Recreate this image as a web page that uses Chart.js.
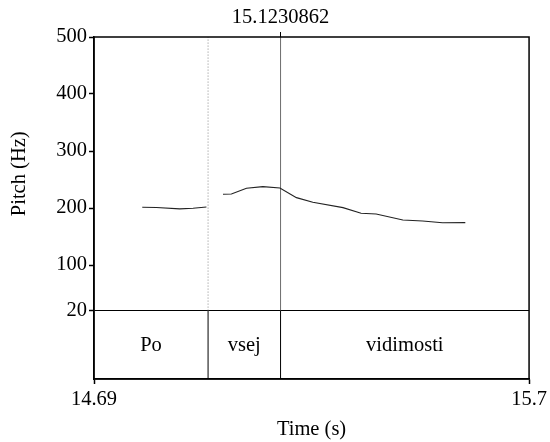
<!DOCTYPE html>
<html>
<head>
<meta charset="utf-8">
<script src="https://cdn.jsdelivr.net/npm/chart.js@4/dist/chart.umd.min.js"></script>
<style>
  html, body { margin: 0; padding: 0; background: #fff; }
  canvas { display: block; }
</style>
</head>
<body>
<canvas id="pitch" width="550" height="442"></canvas>
<script>
// pitch track (null = unvoiced gap)
const pitchTimes = [14.802, 14.835, 14.889, 14.920, 14.951, 14.970,
  14.9895, 15.009, 15.044, 15.082, 15.1216, 15.160, 15.198, 15.268, 15.310, 15.345, 15.407, 15.453, 15.499, 15.552];
const pitchHz = [201.3, 201.0, 198.5, 199.5, 201.8, null,
  224.0, 224.5, 234.6, 237.5, 235.2, 218.2, 210.0, 200.6, 190.8, 189.6, 179.0, 177.3, 174.0, 174.3];

// textgrid tier
const tierLabels = ['Po', 'vsej', 'vidimosti'];
const tierBounds = [14.69, 14.9548, 15.1230862, 15.7];
const cursorTime = 15.1230862;

// axes
const timeMin = 14.69, timeMax = 15.7;
const xTicks = [14.69, 15.7];
const yTicks = [20, 100, 200, 300, 400, 500];
const tierFloor = -100; // bottom of the text tier, in Hz units below 20

const FONT = 'Liberation Serif';
const FSIZE = 20.5;
Chart.defaults.font.family = FONT;
Chart.defaults.font.size = FSIZE;
Chart.defaults.color = '#000';

const pitchData = pitchTimes.map((t, i) => ({ x: t, y: pitchHz[i] }));

const boundarySets = [];
tierBounds.slice(1, -1).forEach(t => {
  // boundary inside the tier
  boundarySets.push({
    data: [{ x: t, y: tierFloor }, { x: t, y: 20 }],
    borderColor: '#000', borderWidth: 1, pointRadius: 0
  });
  // boundary continued up through the pitch area
  const isCursor = Math.abs(t - cursorTime) < 1e-9;
  boundarySets.push({
    data: [{ x: t, y: 20 }, { x: t, y: 500 }],
    borderColor: isCursor ? '#6d6d6d' : '#8a8a8a',
    borderDash: isCursor ? [] : [1, 2],
    borderWidth: 1, pointRadius: 0
  });
});

const framePlugin = {
  id: 'frame',
  afterDatasetsDraw(chart) {
    const { ctx, chartArea: a, scales } = chart;
    ctx.save();
    ctx.strokeStyle = '#000';
    ctx.lineWidth = 1.5;
    ctx.strokeRect(a.left, a.top, a.right - a.left, a.bottom - a.top);

    // tier labels
    ctx.fillStyle = '#000';
    ctx.font = FSIZE + 'px "' + FONT + '"';
    ctx.textAlign = 'center';
    ctx.textBaseline = 'middle';
    const yMid = scales.y.getPixelForValue((tierFloor + 20) / 2) + 1;
    tierLabels.forEach((lab, i) => {
      const x = (scales.x.getPixelForValue(tierBounds[i]) + scales.x.getPixelForValue(tierBounds[i + 1])) / 2;
      ctx.fillText(lab, x, yMid);
    });

    // y title centred on the pitch area only
    const yc = (scales.y.getPixelForValue(20) + scales.y.getPixelForValue(500)) / 2;
    ctx.translate(20, yc);
    ctx.rotate(-Math.PI / 2);
    ctx.fillText('Pitch (Hz)', 0, 0);
    ctx.restore();
  }
};

new Chart(document.getElementById('pitch'), {
  type: 'line',
  data: {
    datasets: [
      {
        data: pitchData,
        borderColor: '#222', borderWidth: 1.1,
        pointRadius: 0, spanGaps: false, tension: 0
      },
      ...boundarySets
    ]
  },
  options: {
    responsive: false,
    animation: false,
    devicePixelRatio: 1,
    layout: { padding: { left: 0, right: 20, top: 0, bottom: 0 } },
    plugins: { legend: { display: false }, tooltip: { enabled: false } },
    scales: {
      x: {
        type: 'linear', position: 'bottom',
        min: timeMin, max: timeMax,
        afterBuildTicks: s => { s.ticks = xTicks.map(v => ({ value: v })); },
        afterFit: s => { s.height = 442 - 379; },
        ticks: { callback: v => String(v), padding: 3, maxRotation: 0, autoSkip: false },
        grid: { drawOnChartArea: false, tickLength: 5, tickColor: '#000', tickWidth: 1.5 },
        border: { color: '#000', width: 1.5 },
        title: { display: true, text: 'Time (s)', padding: { top: 0, bottom: 0 } }
      },
      xTop: {
        type: 'linear', position: 'top',
        min: timeMin, max: timeMax,
        afterBuildTicks: s => { s.ticks = [{ value: cursorTime }]; },
        afterFit: s => { s.height = 37; },
        ticks: { callback: () => String(cursorTime), padding: 2, maxRotation: 0, autoSkip: false },
        grid: { drawOnChartArea: false, tickLength: 5, tickColor: '#000', tickWidth: 1 },
        border: { display: false }
      },
      y: {
        type: 'linear', position: 'left',
        min: tierFloor, max: 500,
        afterBuildTicks: s => { s.ticks = yTicks.map(v => ({ value: v })); },
        afterFit: s => { s.width = 94; },
        ticks: { padding: 2, autoSkip: false },
        grid: {
          color: c => (c.tick && c.tick.value === 20 ? '#000' : 'rgba(0,0,0,0)'),
          lineWidth: 1,
          tickLength: 5, tickColor: '#000', tickWidth: 1.5
        },
        border: { color: '#000', width: 1.5 }
      }
    }
  },
  plugins: [framePlugin]
});
</script>
</body>
</html>
